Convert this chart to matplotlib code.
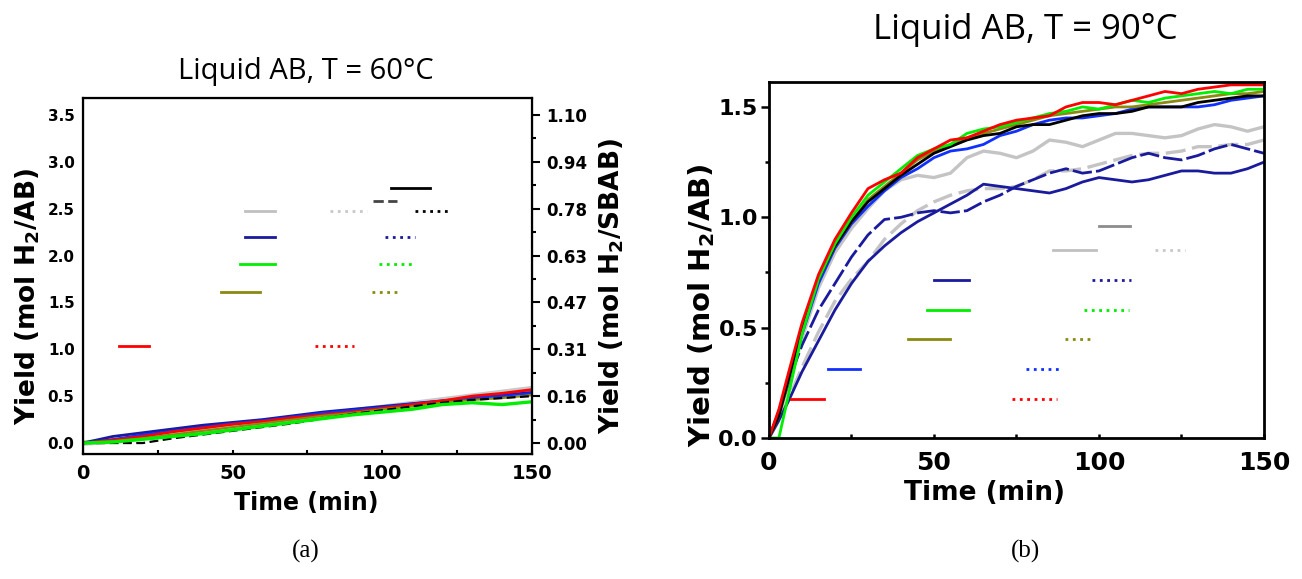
import matplotlib
matplotlib.use("Agg")
import matplotlib.pyplot as plt
from matplotlib.ticker import MultipleLocator, FixedLocator

plt.rcParams['font.family'] = ['DejaVu Sans']
plt.rcParams['mathtext.default'] = 'bf'

# ---------------- data, panel (a): T = 60 C ----------------
t_a = [0, 10, 20, 30, 40, 50, 60, 70, 80, 90, 100, 110, 120, 130, 140, 150]
a_navy = [0, 0.07, 0.11, 0.15, 0.19, 0.22, 0.25, 0.29, 0.33, 0.36, 0.39, 0.42, 0.45, 0.48, 0.51, 0.54]
a_blue = [0, 0.04, 0.09, 0.13, 0.17, 0.21, 0.24, 0.28, 0.32, 0.35, 0.38, 0.42, 0.45, 0.48, 0.50, 0.53]
a_gray = [0, 0.02, 0.06, 0.10, 0.14, 0.18, 0.22, 0.26, 0.30, 0.34, 0.38, 0.42, 0.46, 0.50, 0.54, 0.58]
a_red = [0, 0.03, 0.07, 0.12, 0.16, 0.20, 0.23, 0.27, 0.30, 0.33, 0.37, 0.41, 0.45, 0.50, 0.53, 0.57]
a_olive = [0, 0.02, 0.05, 0.09, 0.13, 0.17, 0.21, 0.25, 0.29, 0.32, 0.36, 0.39, 0.43, 0.46, 0.48, 0.51]
a_black = [0, 0.0, 0.0, 0.05, 0.09, 0.13, 0.17, 0.21, 0.26, 0.31, 0.35, 0.39, 0.43, 0.46, 0.48, 0.50]
a_green = [0, 0.01, 0.04, 0.07, 0.10, 0.14, 0.18, 0.22, 0.26, 0.30, 0.33, 0.36, 0.41, 0.43, 0.41, 0.44]

# legend stubs left in panel (a) (text removed in the original)
a_seg_x0 = [103, 97, 54, 82.5, 111, 54, 101, 52.5, 99, 46, 96.5, 12, 77.5]
a_seg_x1 = [116, 105, 64, 95, 122, 64, 111, 64, 111, 59, 106, 22, 90.5]
a_seg_y = [2.72, 2.58, 2.48, 2.48, 2.48, 2.20, 2.20, 1.91, 1.91, 1.61, 1.61, 1.03, 1.03]
a_seg_c = ['black', '#444444', '#c0c0c0', '#c8c8c8', 'black', '#1a1a9c', '#1a1a9c',
           '#00ee00', '#00ee00', '#8a8a10', '#8a8a10', 'red', 'red']
a_seg_ls = ['-', '--', '-', ':', ':', '-', ':', '-', ':', '-', ':', '-', ':']

right_ticks = ['0.00', '0.16', '0.31', '0.47', '0.63', '0.78', '0.94', '1.10']

# ---------------- data, panel (b): T = 90 C ----------------
t_b = [0, 3, 6, 10, 15, 20, 25, 30, 35, 40, 45, 50, 55, 60, 65, 70, 75, 80,
       85, 90, 95, 100, 105, 110, 115, 120, 125, 130, 135, 140, 145, 150]
b_navy_a = [0, 0.12, 0.26, 0.42, 0.58, 0.70, 0.82, 0.92, 0.99, 1.00, 1.02, 1.03, 1.02, 1.03, 1.07, 1.10,
            1.14, 1.17, 1.20, 1.22, 1.20, 1.21, 1.24, 1.27, 1.29, 1.27, 1.26, 1.28, 1.31, 1.33, 1.31, 1.29]
b_navy_b = [0, 0.08, 0.17, 0.30, 0.44, 0.58, 0.70, 0.80, 0.87, 0.93, 0.98, 1.02, 1.06, 1.10, 1.15, 1.14,
            1.13, 1.12, 1.11, 1.13, 1.16, 1.18, 1.17, 1.16, 1.17, 1.19, 1.21, 1.21, 1.20, 1.20, 1.22, 1.25]
b_gray_dash = [0, 0.08, 0.18, 0.32, 0.48, 0.62, 0.72, 0.80, 0.90, 0.97, 1.03, 1.07, 1.10, 1.12, 1.13, 1.13,
               1.14, 1.17, 1.21, 1.21, 1.22, 1.24, 1.26, 1.28, 1.29, 1.29, 1.30, 1.32, 1.32, 1.33, 1.33, 1.35]
b_gray = [0, 0.10, 0.24, 0.45, 0.68, 0.84, 0.95, 1.04, 1.12, 1.17, 1.19, 1.18, 1.20, 1.27, 1.30, 1.29,
          1.27, 1.30, 1.35, 1.34, 1.32, 1.35, 1.38, 1.38, 1.37, 1.36, 1.37, 1.40, 1.42, 1.41, 1.39, 1.41]
b_blue = [0, 0.12, 0.25, 0.47, 0.70, 0.86, 0.97, 1.05, 1.12, 1.18, 1.22, 1.27, 1.30, 1.31, 1.33, 1.37,
          1.39, 1.42, 1.44, 1.45, 1.45, 1.46, 1.47, 1.49, 1.50, 1.50, 1.50, 1.50, 1.51, 1.53, 1.54, 1.55]
b_black = [0, 0.10, 0.27, 0.50, 0.72, 0.87, 0.98, 1.07, 1.13, 1.19, 1.24, 1.29, 1.32, 1.35, 1.37, 1.38,
           1.41, 1.42, 1.42, 1.44, 1.46, 1.47, 1.47, 1.48, 1.50, 1.50, 1.50, 1.52, 1.53, 1.54, 1.55, 1.55]
b_olive = [0, 0.10, 0.26, 0.50, 0.72, 0.87, 0.98, 1.08, 1.14, 1.20, 1.26, 1.30, 1.33, 1.36, 1.38, 1.40,
           1.42, 1.44, 1.46, 1.47, 1.48, 1.49, 1.50, 1.50, 1.51, 1.52, 1.53, 1.54, 1.55, 1.56, 1.56, 1.57]
b_green = [0, 0.0, 0.20, 0.47, 0.72, 0.88, 1.00, 1.10, 1.16, 1.22, 1.28, 1.31, 1.33, 1.38, 1.40, 1.41,
           1.43, 1.45, 1.47, 1.48, 1.50, 1.49, 1.51, 1.53, 1.52, 1.54, 1.55, 1.56, 1.57, 1.56, 1.58, 1.58]
b_red = [0, 0.13, 0.30, 0.52, 0.74, 0.90, 1.02, 1.13, 1.17, 1.20, 1.27, 1.31, 1.35, 1.36, 1.39, 1.42,
         1.44, 1.45, 1.46, 1.50, 1.52, 1.52, 1.51, 1.53, 1.55, 1.57, 1.56, 1.58, 1.59, 1.60, 1.60, 1.60]

b_seg_x0 = [100, 86, 117, 50, 98, 48, 95.5, 42, 89.7, 18, 78, 6.7, 73.5]
b_seg_x1 = [109.5, 99, 126, 60.7, 109.6, 60.7, 109, 54.8, 98.3, 27.6, 88, 16.7, 87.2]
b_seg_y = [0.96, 0.852, 0.852, 0.716, 0.716, 0.58, 0.58, 0.447, 0.447, 0.313, 0.313, 0.177, 0.177]
b_seg_c = ['#8c8c8c', '#c0c0c0', '#c8c8c8', '#1a1a9c', '#1a1a9c', '#00ee00', '#00ee00',
           '#8a8a10', '#8a8a10', '#1030ff', '#1030ff', 'red', 'red']
b_seg_ls = ['-', '-', ':', '-', ':', '-', ':', '-', ':', '-', ':', '-', ':']

fig = plt.figure(figsize=(13.02, 5.79), dpi=100)

# ================= panel (a) =================
ax1 = fig.add_axes([0.0637, 0.2159, 0.3449, 0.6148])
ax1.plot(t_a, a_gray, color='#c8c8c8', lw=4)
ax1.plot(t_a, a_navy, color='#1a1a9c', lw=2)
ax1.plot(t_a, a_blue, color='#1030ff', lw=1.6)
ax1.plot(t_a, a_red, color='red', lw=2)
ax1.plot(t_a, a_olive, color='#8a8a10', lw=1.6)
ax1.plot(t_a, a_black, color='black', lw=1.6, ls=(0, (4, 2)))
ax1.plot(t_a, a_green, color='#00ee00', lw=2.4)
for x0, x1, y, c, ls in zip(a_seg_x0, a_seg_x1, a_seg_y, a_seg_c, a_seg_ls):
    ax1.plot([x0, x1], [y, y], color=c, ls=ls, lw=2)

ax1.set_xlim(0, 150)
ax1.set_ylim(-0.117, 3.68)
ax1.xaxis.set_major_locator(FixedLocator([0, 50, 100, 150]))
ax1.xaxis.set_minor_locator(FixedLocator([25, 75, 125]))
ax1.yaxis.set_major_locator(MultipleLocator(0.5))
ax1.tick_params(axis='x', which='both', direction='in', length=3, width=1.5,
                labelsize=14, pad=7)
ax1.tick_params(axis='y', which='both', length=0, labelsize=11, pad=6)
for lab in ax1.get_xticklabels() + ax1.get_yticklabels():
    lab.set_fontweight('bold')
for s in ax1.spines.values():
    s.set_linewidth(1.6)

ax1r = ax1.twinx()
k = 1.10 / 3.5
ax1r.set_ylim(-0.117 * k, 3.68 * k)
ax1r.yaxis.set_major_locator(FixedLocator([i * 0.5 * k for i in range(8)]))
ax1r.yaxis.set_minor_locator(FixedLocator([(i + 0.5) * 0.5 * k for i in range(7)]))
ax1r.set_yticklabels(right_ticks)
ax1r.tick_params(axis='y', which='major', direction='out', length=6, width=1.5,
                 labelsize=12, pad=4)
ax1r.tick_params(axis='y', which='minor', direction='out', length=3, width=1.5)
for lab in ax1r.get_yticklabels():
    lab.set_fontweight('bold')

fig.text(28 / 1302, 1 - 296 / 579, r'Yield (mol H$_2$/AB)', rotation=90,
         ha='center', va='center', fontsize=19, fontweight='bold')
fig.text(612 / 1302, 1 - 286 / 579, r'Yield (mol H$_2$/SBAB)', rotation=90,
         ha='center', va='center', fontsize=19, fontweight='bold')
fig.text(306 / 1302, 1 - 503 / 579, 'Time (min)', ha='center', va='center',
         fontsize=17, fontweight='bold')
fig.text(306 / 1302, 1 - 72 / 579, 'Liquid AB, T = 60°C', ha='center', va='center',
         fontsize=21, family=['Open Sans', 'DejaVu Sans'])
fig.text(306 / 1302, 1 - 551 / 579, '(a)', ha='center', va='center',
         fontsize=18, family=['Liberation Serif', 'DejaVu Serif'])

# ================= panel (b) =================
ax2 = fig.add_axes([0.5906, 0.2435, 0.3802, 0.6149])
ax2.plot(t_b, b_gray_dash, color='#c4c4c4', lw=2.4, ls=(0, (6, 2)))
ax2.plot(t_b, b_gray, color='#c4c4c4', lw=2.4)
ax2.plot(t_b, b_navy_a, color='#1a1a9c', lw=2, ls=(0, (7, 1.5)))
ax2.plot(t_b, b_navy_b, color='#1a1a9c', lw=2)
ax2.plot(t_b, b_blue, color='#1030ff', lw=2)
ax2.plot(t_b, b_olive, color='#8a8a10', lw=2)
ax2.plot(t_b, b_black, color='black', lw=2)
ax2.plot(t_b, b_green, color='#00ee00', lw=2)
ax2.plot(t_b, b_red, color='red', lw=2)
for x0, x1, y, c, ls in zip(b_seg_x0, b_seg_x1, b_seg_y, b_seg_c, b_seg_ls):
    ax2.plot([x0, x1], [y, y], color=c, ls=ls, lw=2)

ax2.set_xlim(0, 150)
ax2.set_ylim(0, 1.613)
ax2.xaxis.set_major_locator(MultipleLocator(50))
ax2.xaxis.set_minor_locator(MultipleLocator(25))
ax2.yaxis.set_major_locator(MultipleLocator(0.5))
ax2.yaxis.set_minor_locator(MultipleLocator(0.25))
ax2.tick_params(axis='x', which='both', direction='in', length=3, width=1.8,
                labelsize=18, pad=9)
ax2.tick_params(axis='y', which='major', direction='out', length=6, width=1.8,
                labelsize=16, pad=2)
ax2.tick_params(axis='y', which='minor', direction='out', length=3, width=1.8)
for lab in ax2.get_xticklabels() + ax2.get_yticklabels():
    lab.set_fontweight('bold')
for s in ax2.spines.values():
    s.set_linewidth(2)

fig.text(702 / 1302, 1 - 305 / 579, r'Yield (mol H$_2$/AB)', rotation=90,
         ha='center', va='center', fontsize=21, fontweight='bold')
fig.text(985 / 1302, 1 - 493 / 579, 'Time (min)', ha='center', va='center',
         fontsize=19, fontweight='bold')
fig.text(1025 / 1302, 1 - 30 / 579, 'Liquid AB, T = 90°C', ha='center', va='center',
         fontsize=25, family=['Open Sans', 'DejaVu Sans'])
fig.text(1025 / 1302, 1 - 551 / 579, '(b)', ha='center', va='center',
         fontsize=18, family=['Liberation Serif', 'DejaVu Serif'])

fig.savefig('out.png', dpi=100)
